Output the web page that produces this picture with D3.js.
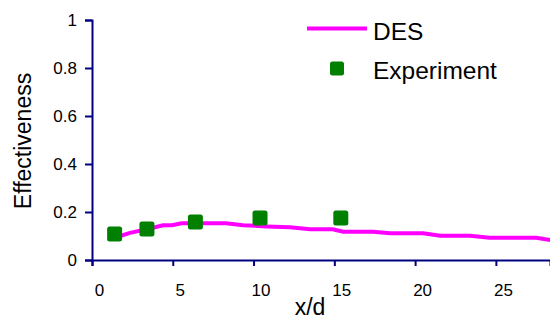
<!DOCTYPE html>
<html>
<head>
<meta charset="utf-8">
<script src="https://cdn.jsdelivr.net/npm/d3@7/dist/d3.min.js"></script>
<style>
  html, body { margin: 0; padding: 0; background: #fff; }
  svg { display: block; font-family: "Liberation Sans", Arial, sans-serif; }
</style>
</head>
<body>
<svg id="chart" width="550" height="320"></svg>
<script>
// DES prediction of film-cooling effectiveness along x/d
const desX = [1.6, 2.35, 3.4, 4.4, 4.95, 5.55, 8.3, 9.35, 10.8, 12.25, 13.5, 14.9, 15.55, 17.4, 18.45, 20.5, 21.55, 23.4, 24.6, 27.5, 28.4];
const desY = [0.097, 0.113, 0.128, 0.145, 0.145, 0.153, 0.153, 0.145, 0.140, 0.136, 0.128, 0.128, 0.118, 0.118, 0.111, 0.111, 0.101, 0.101, 0.093, 0.093, 0.083];

// Measured effectiveness
const expX = [1.4, 3.4, 6.4, 10.4, 15.4];
const expY = [0.108, 0.129, 0.158, 0.175, 0.175];

const xTicks = [0, 5, 10, 15, 20, 25];
const yTicks = [0, 0.2, 0.4, 0.6, 0.8, 1];
const yTickLabels = ["0", "0.2", "0.4", "0.6", "0.8", "1"];

const axisColor = "#000080";
const svg = d3.select("#chart");

const x = d3.scaleLinear().domain([0, 28.35]).range([92, 550]);
const y = d3.scaleLinear().domain([0, 1]).range([260, 20]);

// y axis
const yAxis = svg.append("g")
  .attr("transform", `translate(${x(0)},0)`)
  .call(d3.axisLeft(y).tickValues(yTicks).tickSize(7).tickPadding(8)
    .tickFormat((d, i) => yTickLabels[i]));
yAxis.select(".domain").attr("stroke", axisColor).attr("stroke-width", 2);
yAxis.selectAll(".tick line").attr("stroke", axisColor).attr("stroke-width", 2);
yAxis.selectAll(".tick text").attr("fill", "#000").attr("font-size", 17)
  .attr("font-family", "Liberation Sans, Arial, sans-serif");

// x axis
const xAxis = svg.append("g")
  .attr("transform", `translate(0,${y(0)})`)
  .call(d3.axisBottom(x).tickValues(xTicks).tickSize(6).tickPadding(18).tickFormat(d3.format("d")));
xAxis.select(".domain").attr("stroke", axisColor).attr("stroke-width", 2);
xAxis.selectAll(".tick line").attr("stroke", axisColor).attr("stroke-width", 2);
xAxis.selectAll(".tick text").attr("fill", "#000").attr("font-size", 17)
  .attr("dx", 7)
  .attr("font-family", "Liberation Sans, Arial, sans-serif");

// axis titles
svg.append("text")
  .attr("x", 310).attr("y", 315)
  .attr("text-anchor", "middle")
  .attr("font-size", 23)
  .text("x/d");

svg.append("text")
  .attr("transform", "translate(31,141) rotate(-90)")
  .attr("text-anchor", "middle")
  .attr("font-size", 23)
  .text("Effectiveness");

// DES curve
const line = d3.line().x(d => x(d[0])).y(d => y(d[1]));
svg.append("path")
  .datum(desX.map((v, i) => [v, desY[i]]))
  .attr("fill", "none")
  .attr("stroke", "#ff00ff")
  .attr("stroke-width", 4)
  .attr("d", line);

// Experiment markers
const ms = 15;
svg.append("g").selectAll("rect")
  .data(expX.map((v, i) => [v, expY[i]]))
  .join("rect")
  .attr("x", d => x(d[0]) - ms / 2)
  .attr("y", d => y(d[1]) - ms / 2)
  .attr("width", ms).attr("height", ms)
  .attr("rx", 2.5)
  .attr("fill", "#008000");

// legend
const legend = svg.append("g");
legend.append("line")
  .attr("x1", 307).attr("x2", 367).attr("y1", 28.5).attr("y2", 28.5)
  .attr("stroke", "#ff00ff").attr("stroke-width", 4);
legend.append("text").attr("x", 373).attr("y", 39.5).attr("font-size", 24.5).text("DES");
legend.append("rect")
  .attr("x", 337 - 14 / 2).attr("y", 68.5 - 14 / 2)
  .attr("width", 14).attr("height", 14).attr("rx", 2.5)
  .attr("fill", "#008000");
legend.append("text").attr("x", 373).attr("y", 78.5).attr("font-size", 24.5).text("Experiment");
</script>
</body>
</html>
